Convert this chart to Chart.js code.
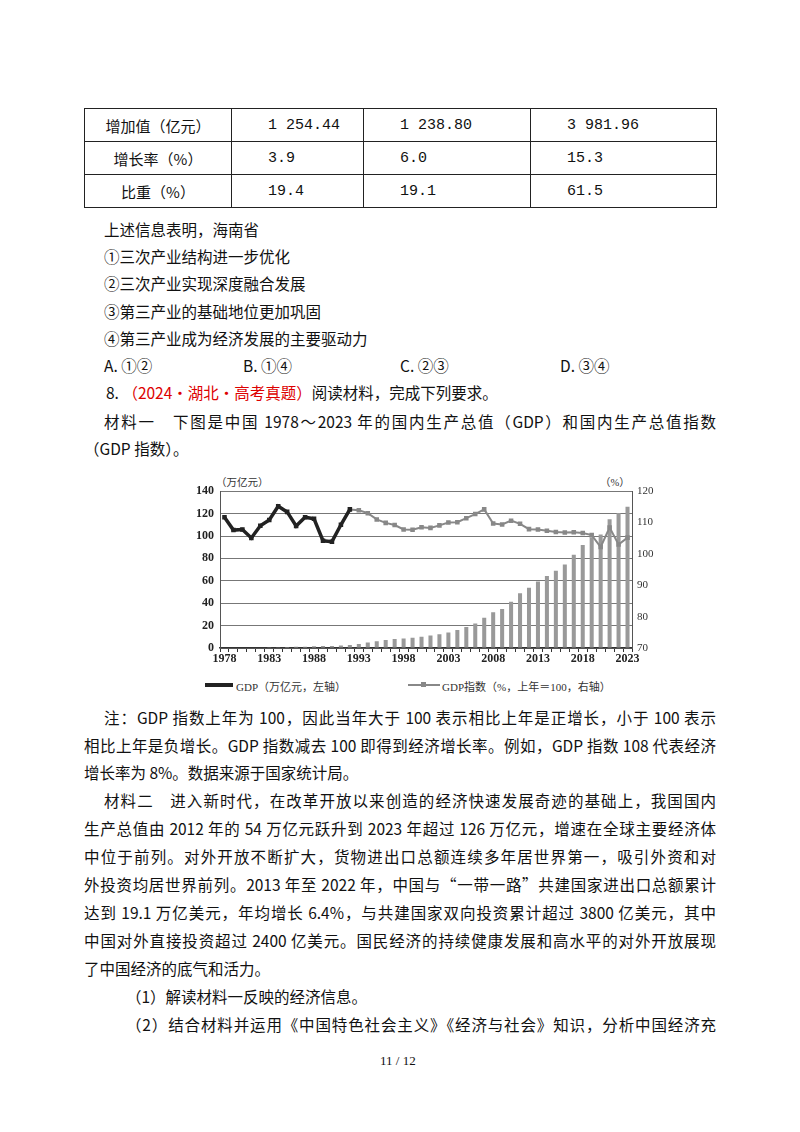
<!DOCTYPE html>
<html><head><meta charset="utf-8">
<script src="https://cdn.jsdelivr.net/npm/chart.js@4.4.1/dist/chart.umd.min.js"></script>
<style>
body{margin:0;width:800px;height:1132px;background:#fff;position:relative;font-family:"Noto Sans CJK SC",sans-serif;color:#111;}
.t{position:absolute;font-size:15.5px;line-height:20px;white-space:nowrap;}
.j{position:absolute;left:84px;width:632px;font-size:15.5px;line-height:20px;text-align:justify;text-align-last:justify;white-space:nowrap;}
table{position:absolute;left:84px;top:108px;border-collapse:collapse;font-size:15px;}
td{border:1.5px solid #222;height:32px;padding:0;font-family:"Liberation Mono","Noto Sans CJK SC",monospace;}
.red{color:#d00;}
.s{font-size:11px;position:absolute;white-space:nowrap;font-family:"Liberation Serif","Noto Sans CJK SC";color:#333}
</style></head><body>
<table>
<tr><td style="width:146px;text-align:center;font-family:'Noto Sans CJK SC'">增加值（亿元）</td><td style="width:132px;padding-left:36px;box-sizing:border-box">1 254.44</td><td style="width:167px;padding-left:36px;box-sizing:border-box">1 238.80</td><td style="width:186px;padding-left:36px;box-sizing:border-box">3 981.96</td></tr>
<tr><td style="text-align:center;font-family:'Noto Sans CJK SC'">增长率（%）</td><td style="padding-left:36px">3.9</td><td style="padding-left:36px">6.0</td><td style="padding-left:36px">15.3</td></tr>
<tr><td style="text-align:center;font-family:'Noto Sans CJK SC'">比重（%）</td><td style="padding-left:36px">19.4</td><td style="padding-left:36px">19.1</td><td style="padding-left:36px">61.5</td></tr>
</table>
<div class="t" style="left:104px;top:219px">上述信息表明，海南省</div>
<div class="t" style="left:104px;top:246px">①三次产业结构进一步优化</div>
<div class="t" style="left:104px;top:273px">②三次产业实现深度融合发展</div>
<div class="t" style="left:104px;top:301px">③第三产业的基础地位更加巩固</div>
<div class="t" style="left:104px;top:328px">④第三产业成为经济发展的主要驱动力</div>
<div class="t" style="left:104px;top:355px">A. ①②</div>
<div class="t" style="left:243px;top:355px">B. ①④</div>
<div class="t" style="left:400px;top:355px">C. ②③</div>
<div class="t" style="left:560px;top:355px">D. ③④</div>
<div class="t" style="left:106px;top:382px">8. <span class="red">（2024·湖北·高考真题）</span>阅读材料，完成下列要求。</div>
<div class="j" style="left:104px;width:612px;top:411px">材料一　下图是中国 1978～2023 年的国内生产总值（GDP）和国内生产总值指数</div>
<div class="t" style="left:84px;top:438px">（GDP 指数）。</div>

<div class="s" style="left:216px;top:474px;font-size:10.5px">（万亿元）</div>
<div class="s" style="left:600px;top:474px;font-size:10.5px">（%）</div>
<div style="position:absolute;left:185px;top:478px;width:485px;height:195px"><canvas id="c"></canvas></div>
<div style="position:absolute;left:205px;top:683px;width:28px;height:4px;background:#222"></div>
<div class="s" style="left:236px;top:678px">GDP（万亿元，左轴）</div>
<div style="position:absolute;left:408px;top:684px;width:32px;height:2px;background:#888"></div>
<div style="position:absolute;left:421px;top:682px;width:5px;height:5px;background:#888"></div>
<div class="s" style="left:442px;top:678px">GDP指数（%，上年＝100，右轴）</div>

<div class="j" style="left:104px;width:612px;top:707px">注：GDP 指数上年为 100，因此当年大于 100 表示相比上年是正增长，小于 100 表示</div>
<div class="j" style="top:735px">相比上年是负增长。GDP 指数减去 100 即得到经济增长率。例如，GDP 指数 108 代表经济</div>
<div class="t" style="left:84px;top:762px">增长率为 8%。数据来源于国家统计局。</div>
<div class="j" style="left:104px;width:612px;top:790px">材料二　进入新时代，在改革开放以来创造的经济快速发展奇迹的基础上，我国国内</div>
<div class="j" style="top:818px">生产总值由 2012 年的 54 万亿元跃升到 2023 年超过 126 万亿元，增速在全球主要经济体</div>
<div class="j" style="top:846px">中位于前列。对外开放不断扩大，货物进出口总额连续多年居世界第一，吸引外资和对</div>
<div class="j" style="top:874px">外投资均居世界前列。2013 年至 2022 年，中国与“一带一路”共建国家进出口总额累计</div>
<div class="j" style="top:902px">达到 19.1 万亿美元，年均增长 6.4%，与共建国家双向投资累计超过 3800 亿美元，其中</div>
<div class="j" style="top:930px">中国对外直接投资超过 2400 亿美元。国民经济的持续健康发展和高水平的对外开放展现</div>
<div class="t" style="left:84px;top:958px">了中国经济的底气和活力。</div>
<div class="t" style="left:126px;top:986px">（1）解读材料一反映的经济信息。</div>
<div class="j" style="left:126px;width:590px;top:1014px">（2）结合材料并运用《中国特色社会主义》《经济与社会》知识，分析中国经济充</div>
<div class="t" style="left:380px;top:1051px;font-size:13px;font-family:'Liberation Serif'">11 / 12</div>
<script>
const years=[];for(let y=1978;y<=2023;y++)years.push(String(y));
const gdp=[0.37,0.41,0.46,0.49,0.54,0.60,0.72,0.91,1.03,1.21,1.51,1.72,1.89,2.19,2.72,3.57,4.86,6.13,7.18,7.97,8.52,9.06,10.03,11.09,12.17,13.74,16.18,18.73,21.94,27.01,31.92,34.85,41.21,48.79,53.86,59.30,64.36,68.89,74.64,83.20,91.93,98.65,101.36,114.92,120.47,126.06];
const gdpIndex=[111.7,107.6,107.8,105.1,109.0,110.8,115.2,113.4,108.9,111.7,111.2,104.2,103.9,109.3,114.2,113.9,113.0,111.0,109.9,109.2,107.8,107.7,108.5,108.3,109.1,110.0,110.1,111.4,112.7,114.2,109.7,109.4,110.6,109.6,107.9,107.8,107.4,107.0,106.8,106.9,106.7,106.0,102.2,108.4,103.0,105.2];
const leftTicks=[0,20,40,60,80,100,120,140];
const rightTicks=[70,75,80,85,90,95,100,105,110,115,120];
new Chart(document.getElementById('c'),{
 data:{labels:years,datasets:[
  {type:'line',data:gdpIndex,yAxisID:'y1',borderColor:'#888',borderWidth:2,pointStyle:'rect',pointRadius:1.8,
   pointBackgroundColor:c=>c.dataIndex<15?'#222':'#888',pointBorderColor:c=>c.dataIndex<15?'#222':'#888',
   segment:{borderColor:c=>c.p0DataIndex<14?'#222':'#888',borderWidth:c=>c.p0DataIndex<14?3.5:2},tension:0,order:0},
  {type:'bar',data:gdp,yAxisID:'y',backgroundColor:'#999',barPercentage:0.45,categoryPercentage:1,order:1}
 ]},
 options:{responsive:true,maintainAspectRatio:false,animation:false,
  layout:{padding:{top:9,left:0,right:0,bottom:0}},
  plugins:{legend:{display:false},tooltip:{enabled:false}},
  scales:{
   x:{offset:true,grid:{drawOnChartArea:false,color:'#333',tickLength:4},border:{color:'#333',width:1.5},
      ticks:{autoSkip:false,maxRotation:0,color:'#222',font:{family:"Liberation Serif",size:12,weight:'bold'},padding:0,
      callback:(v,i)=>(i%5===0)?years[i]:''},afterFit:a=>{a.height=25;}},
   y:{position:'left',min:0,max:140,afterBuildTicks:a=>{a.ticks=leftTicks.map(v=>({value:v}));},
      grid:{color:'#777',lineWidth:1,tickLength:0},border:{color:'#555'},
      ticks:{color:'#222',font:{family:"Liberation Serif",size:12,weight:'bold'},padding:6},afterFit:a=>{a.width=35;}},
   y1:{position:'right',min:70,max:120,afterBuildTicks:a=>{a.ticks=rightTicks.map(v=>({value:v}));},
      grid:{drawOnChartArea:false,tickLength:0},border:{color:'#555'},
      ticks:{color:'#333',font:{family:"Liberation Serif",size:11},padding:5},afterFit:a=>{a.width=38;}}
  }}
});
</script>
</body></html>
